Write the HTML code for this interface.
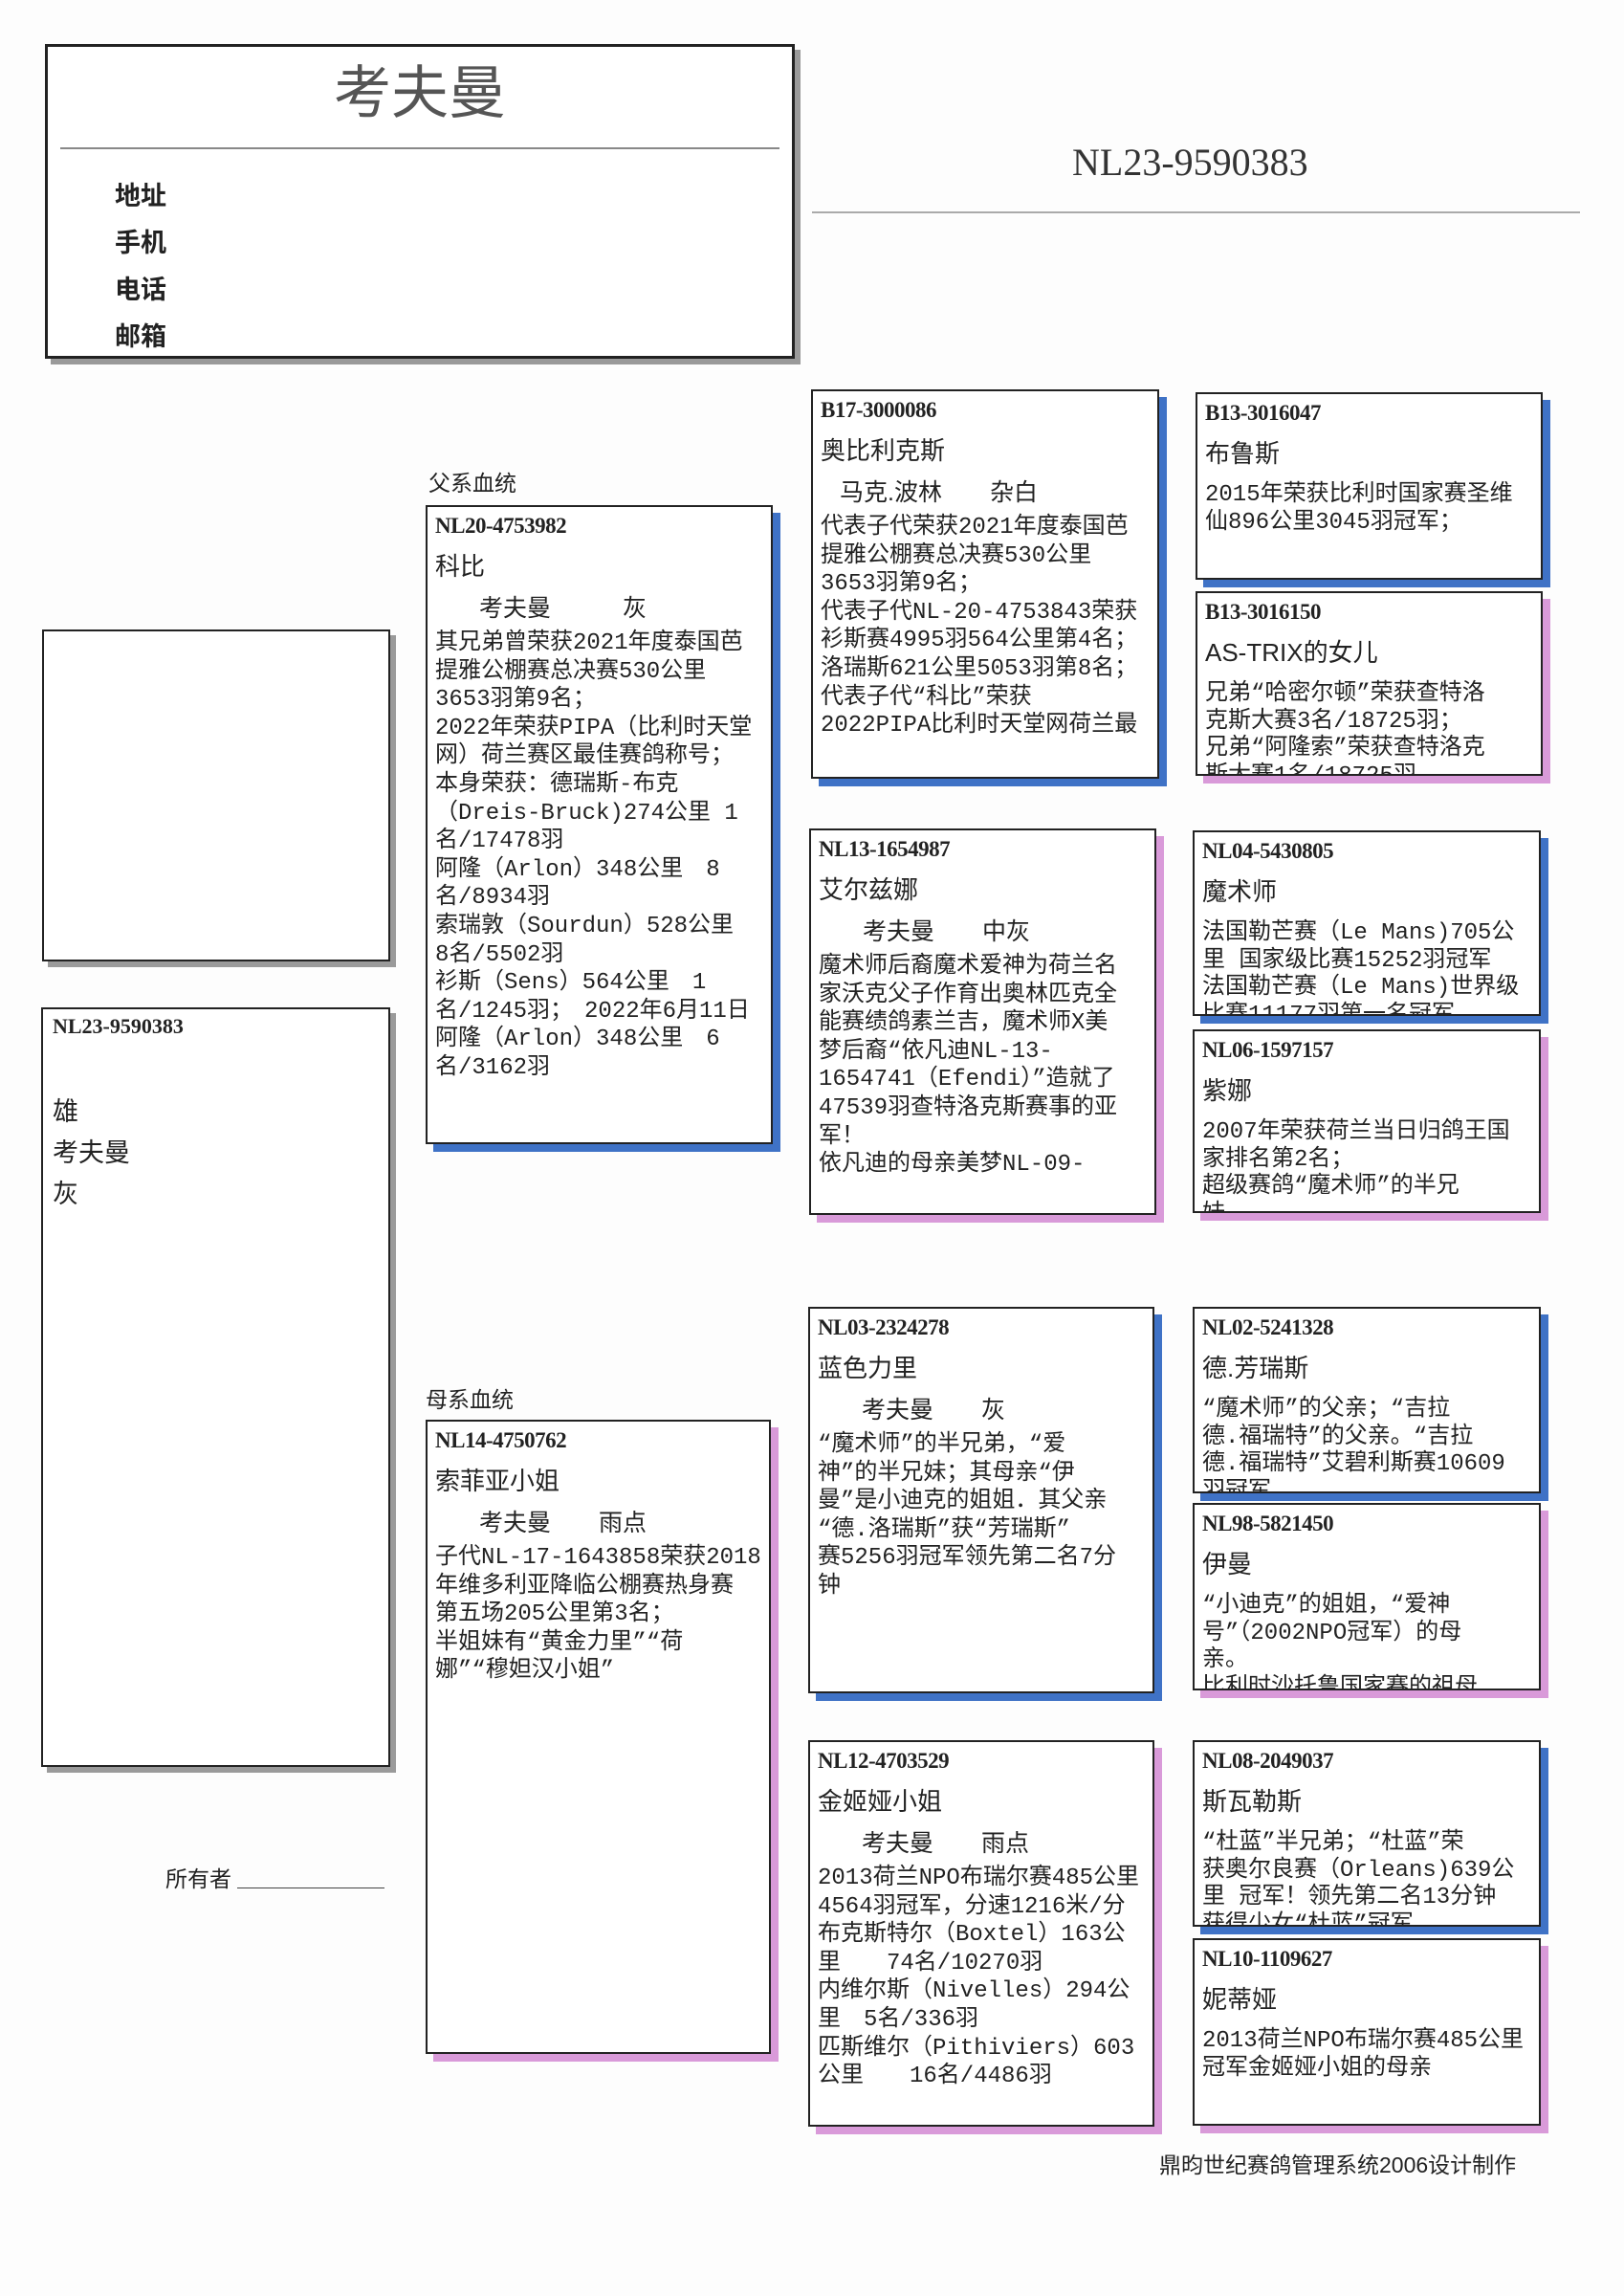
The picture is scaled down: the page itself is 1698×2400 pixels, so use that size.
<!DOCTYPE html>
<html><head><meta charset="utf-8">
<style>
body{margin:0;width:1698px;height:2400px;background:#fdfdfd;position:relative;overflow:hidden;font-family:"Liberation Sans","Noto Sans CJK SC",sans-serif;color:#222}
.a{position:absolute}
.box{position:absolute;border:2px solid #222;background:#fff;box-sizing:border-box;overflow:hidden}
.sb{box-shadow:8px 8px 0 #3f72c6}
.sp{box-shadow:8px 8px 0 #d99ad9}
.sg{box-shadow:6px 6px 0 #9a9a9a}
.id{font-family:"Liberation Serif",serif;font-weight:bold;font-size:23px;height:40px;line-height:40px;padding-left:8px;letter-spacing:-0.5px}
.nm{font-size:26px;height:44px;line-height:44px;padding-left:8px;white-space:nowrap}
.br{font-size:25px;height:44px;line-height:44px;padding-left:54px;white-space:pre}
.tx{font-family:"Liberation Mono","Noto Sans CJK SC",monospace;font-size:24px;line-height:29.6px;padding-left:8px;white-space:pre}
.g3 .tx{margin-top:8px;line-height:28.5px}
</style></head><body>

<!-- header -->
<div class="box sg" style="left:47px;top:46px;width:784px;height:329px;border:3px solid #222">
  <div class="a" style="left:0;right:0;top:14px;text-align:center;font-size:60px;color:#555;line-height:70px">考夫曼</div>
  <div class="a" style="left:13px;right:13px;top:105px;height:2px;background:#888"></div>
  <div class="a" style="left:70px;top:132px;font-size:27px;font-weight:bold;line-height:49px">地址<br>手机<br>电话<br>邮箱</div>
</div>
<div class="a" style="left:1121px;top:146px;font-family:'Liberation Serif',serif;font-size:40px;color:#333">NL23-9590383</div>
<div class="a" style="left:849px;top:221px;width:803px;height:2px;background:#aaa"></div>

<!-- left -->
<div class="box sg" style="left:44px;top:658px;width:364px;height:347px"></div>
<div class="box sg" style="left:43px;top:1053px;width:365px;height:794px">
  <div class="a" style="left:10px;top:5px;font-family:'Liberation Serif',serif;font-weight:bold;font-size:22px">NL23-9590383</div>
  <div class="a" style="left:10px;top:86px;font-size:27px;line-height:43px">雄<br>考夫曼<br>灰</div>
</div>
<div class="a" style="left:173px;top:1945px;font-size:23px">所有者</div>
<div class="a" style="left:248px;top:1973px;width:154px;height:1px;background:#444"></div>

<div class="a" style="left:448px;top:486px;font-size:23px">父系血统</div>
<div class="a" style="left:445px;top:1444px;font-size:23px">母系血统</div>

<!-- gen1 -->
<div class="box sb" style="left:445px;top:528px;width:363px;height:668px">
<div class="id">NL20-4753982</div><div class="nm">科比</div><div class="br">考夫曼　　　灰</div>
<div class="tx">其兄弟曾荣获2021年度泰国芭
提雅公棚赛总决赛530公里
3653羽第9名；
2022年荣获PIPA（比利时天堂
网）荷兰赛区最佳赛鸽称号；
本身荣获：德瑞斯-布克
（Dreis-Bruck)274公里 1
名/17478羽
阿隆（Arlon）348公里　8
名/8934羽
索瑞敦（Sourdun）528公里
8名/5502羽
衫斯（Sens）564公里　1
名/1245羽；　2022年6月11日
阿隆（Arlon）348公里　6
名/3162羽</div></div>

<div class="box sp" style="left:445px;top:1484px;width:361px;height:663px">
<div class="id">NL14-4750762</div><div class="nm">索菲亚小姐</div><div class="br">考夫曼　　雨点</div>
<div class="tx">子代NL-17-1643858荣获2018
年维多利亚降临公棚赛热身赛
第五场205公里第3名；
半姐妹有“黄金力里”“荷
娜”“穆妲汉小姐”</div></div>

<!-- gen2 -->
<div class="box sb" style="left:848px;top:407px;width:364px;height:407px">
<div class="id">B17-3000086</div><div class="nm">奥比利克斯</div><div class="br" style="padding-left:28px">马克.波林　　杂白</div>
<div class="tx">代表子代荣获2021年度泰国芭
提雅公棚赛总决赛530公里
3653羽第9名；
代表子代NL-20-4753843荣获
衫斯赛4995羽564公里第4名；
洛瑞斯621公里5053羽第8名；
代表子代“科比”荣获
2022PIPA比利时天堂网荷兰最</div></div>

<div class="box sp" style="left:846px;top:866px;width:363px;height:404px">
<div class="id">NL13-1654987</div><div class="nm">艾尔兹娜</div><div class="br">考夫曼　　中灰</div>
<div class="tx">魔术师后裔魔术爱神为荷兰名
家沃克父子作育出奥林匹克全
能赛绩鸽素兰吉，魔术师X美
梦后裔“依凡迪NL-13-
1654741（Efendi）”造就了
47539羽查特洛克斯赛事的亚
军！
依凡迪的母亲美梦NL-09-</div></div>

<div class="box sb" style="left:845px;top:1366px;width:362px;height:404px">
<div class="id">NL03-2324278</div><div class="nm">蓝色力里</div><div class="br">考夫曼　　灰</div>
<div class="tx">“魔术师”的半兄弟，“爱
神”的半兄妹；其母亲“伊
曼”是小迪克的姐姐．其父亲
“德.洛瑞斯”获“芳瑞斯”
赛5256羽冠军领先第二名7分
钟</div></div>

<div class="box sp" style="left:845px;top:1819px;width:362px;height:404px">
<div class="id">NL12-4703529</div><div class="nm">金姬娅小姐</div><div class="br">考夫曼　　雨点</div>
<div class="tx">2013荷兰NPO布瑞尔赛485公里
4564羽冠军，分速1216米/分
布克斯特尔（Boxtel）163公
里　　74名/10270羽
内维尔斯（Nivelles）294公
里　5名/336羽
匹斯维尔（Pithiviers）603
公里　　16名/4486羽</div></div>

<!-- gen3 -->
<div class="g3">
<div class="box sb" style="left:1250px;top:410px;width:363px;height:196px">
<div class="id">B13-3016047</div><div class="nm">布鲁斯</div>
<div class="tx">2015年荣获比利时国家赛圣维
仙896公里3045羽冠军；</div></div>

<div class="box sp" style="left:1250px;top:618px;width:363px;height:193px">
<div class="id">B13-3016150</div><div class="nm">AS-TRIX的女儿</div>
<div class="tx">兄弟“哈密尔顿”荣获查特洛
克斯大赛3名/18725羽；
兄弟“阿隆索”荣获查特洛克
斯大赛1名/18725羽</div></div>

<div class="box sb" style="left:1247px;top:868px;width:364px;height:194px">
<div class="id">NL04-5430805</div><div class="nm">魔术师</div>
<div class="tx">法国勒芒赛（Le Mans)705公
里 国家级比赛15252羽冠军
法国勒芒赛（Le Mans)世界级
比赛11177羽第一名冠军</div></div>

<div class="box sp" style="left:1247px;top:1076px;width:364px;height:192px">
<div class="id">NL06-1597157</div><div class="nm">紫娜</div>
<div class="tx">2007年荣获荷兰当日归鸽王国
家排名第2名；
超级赛鸽“魔术师”的半兄
妹</div></div>

<div class="box sb" style="left:1247px;top:1366px;width:364px;height:195px">
<div class="id">NL02-5241328</div><div class="nm">德.芳瑞斯</div>
<div class="tx">“魔术师”的父亲；“吉拉
德.福瑞特”的父亲。“吉拉
德.福瑞特”艾碧利斯赛10609
羽冠军</div></div>

<div class="box sp" style="left:1247px;top:1571px;width:364px;height:196px">
<div class="id">NL98-5821450</div><div class="nm">伊曼</div>
<div class="tx">“小迪克”的姐姐，“爱神
号”（2002NPO冠军）的母
亲。
比利时沙托鲁国家赛的祖母</div></div>

<div class="box sb" style="left:1247px;top:1819px;width:364px;height:195px">
<div class="id">NL08-2049037</div><div class="nm">斯瓦勒斯</div>
<div class="tx">“杜蓝”半兄弟；“杜蓝”荣
获奥尔良赛（Orleans)639公
里 冠军！领先第二名13分钟
获得少女“杜蓝”冠军</div></div>

<div class="box sp" style="left:1247px;top:2026px;width:364px;height:196px">
<div class="id">NL10-1109627</div><div class="nm">妮蒂娅</div>
<div class="tx">2013荷兰NPO布瑞尔赛485公里
冠军金姬娅小姐的母亲</div></div>
</div>

<div class="a" style="left:1212px;top:2244px;font-size:23px">鼎昀世纪赛鸽管理系统2006设计制作</div>
</body></html>
